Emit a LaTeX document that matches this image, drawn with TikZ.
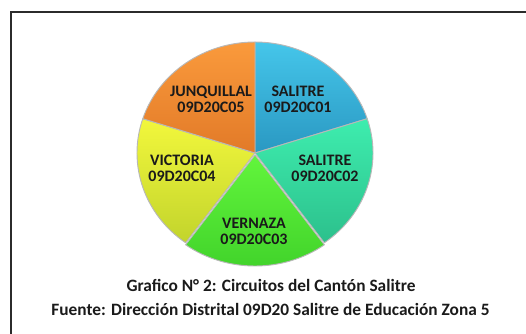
\documentclass[tikz,border=0pt]{standalone}
\usepackage{fontspec}
\setmainfont{Carlito}
\definecolor{framec}{HTML}{2B2B2B}
\definecolor{txt}{HTML}{1A1A1A}
\definecolor{bluetop}{HTML}{45C6EA}
\definecolor{bluebot}{HTML}{2A98C2}
\definecolor{tealtop}{HTML}{3EEDAE}
\definecolor{tealbot}{HTML}{2CC08C}
\definecolor{greentop}{HTML}{62F53C}
\definecolor{greenbot}{HTML}{40D22A}
\definecolor{yeltop}{HTML}{F2F73C}
\definecolor{yelbot}{HTML}{C2D42C}
\definecolor{ortop}{HTML}{FA9A3C}
\definecolor{orbot}{HTML}{E27A28}
\definecolor{sep}{HTML}{B8B8B8}
\tikzset{
  slice/.style={draw=sep, line width=0.7pt, line join=round},
  lbl/.style={font=\bfseries\fontsize{12pt}{12pt}\selectfont, text=txt, align=center, inner sep=0pt},
  captext/.style={font=\bfseries\fontsize{13pt}{15pt}\selectfont, text=txt, inner sep=0pt}
}
\begin{document}
\begin{tikzpicture}[x=0.75pt,y=0.75pt]
\useasboundingbox (0,0) rectangle (526,333);
% frame
\draw[framec, line width=1.1pt] (11,-10) -- (11,321) -- (540,321);
\coordinate (c) at (255,180);
% SALITRE 01
\shade[slice, top color=bluetop, bottom color=bluebot, shift={(c)}]
  (0,0) -- (90:88.5pt and 83.25pt) arc[start angle=90, end angle=18, x radius=88.5pt, y radius=83.25pt] -- cycle;
% SALITRE 02
\shade[slice, top color=tealtop, bottom color=tealbot, shift={(c)}]
  (0,0) -- (18:88.5pt and 83.25pt) arc[start angle=18, end angle=-54, x radius=88.5pt, y radius=83.25pt] -- cycle;
% VICTORIA
\shade[slice, top color=yeltop, bottom color=yelbot, shift={(c)}]
  (0,0) -- (-126:88.5pt and 83.25pt) arc[start angle=-126, end angle=-198, x radius=88.5pt, y radius=83.25pt] -- cycle;
% JUNQUILLAL
\shade[slice, top color=ortop, bottom color=orbot, shift={(c)}]
  (0,0) -- (162:88.5pt and 83.25pt) arc[start angle=162, end angle=90, x radius=88.5pt, y radius=83.25pt] -- cycle;
% VERNAZA (slightly exploded)
\shade[slice, top color=greentop, bottom color=greenbot, shift={(c)}, yshift=-1.5pt]
  (0,0) -- (-54:88.5pt and 83.25pt) arc[start angle=-54, end angle=-126, x radius=88.5pt, y radius=83.25pt] -- cycle;
% labels
\node[lbl] (l5) at (211,234) {JUNQUILLAL\\09D20C05};
\node[lbl] (l1) at (298,234) {SALITRE\\09D20C01};
\node[lbl] (l2) at (325,165) {SALITRE\\09D20C02};
\node[lbl] (l4) at (182,165) {VICTORIA\\09D20C04};
\node[lbl] (l3) at (254,102) {VERNAZA\\09D20C03};
% captions
\node[captext] (t1) at (271,48) {Grafico N° 2: Circuitos del Cantón Salitre};
\node[captext] (t2) at (270.5,24) {Fuente: Dirección Distrital 09D20 Salitre de Educación Zona 5};
\end{tikzpicture}
\end{document}
